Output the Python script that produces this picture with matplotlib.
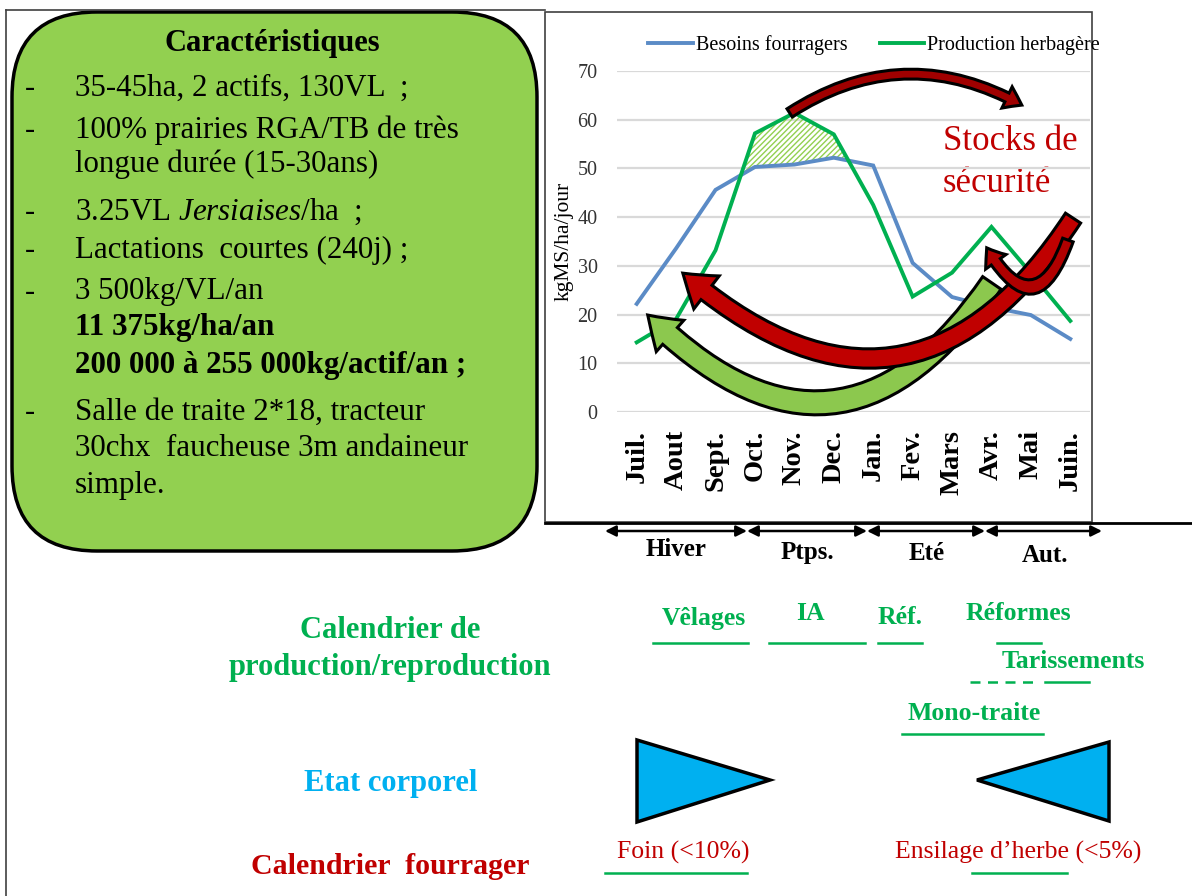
import matplotlib
matplotlib.use('Agg')
import matplotlib.pyplot as plt
from matplotlib.patches import FancyBboxPatch, FancyArrowPatch, Polygon, Rectangle
import numpy as np

plt.rcParams['font.family'] = ['Liberation Serif', 'DejaVu Serif']
plt.rcParams['mathtext.fontset'] = 'custom'
plt.rcParams['mathtext.rm'] = 'Liberation Serif'
plt.rcParams['mathtext.it'] = 'Liberation Serif:italic'
plt.rcParams['hatch.linewidth'] = 1.0

# Données du graphique (kgMS/ha/jour)
mois = ['Juil.', 'Aout', 'Sept.', 'Oct.', 'Nov.', 'Dec.', 'Jan.', 'Fev.', 'Mars', 'Avr.', 'Mai', 'Juin.']
besoins = [22.2, 33.6, 45.6, 50.3, 50.8, 52.2, 50.6, 30.6, 23.6, 21.5, 19.9, 15.0]
production = [14.3, 19.1, 33.2, 57.2, 61.4, 57.0, 42.5, 23.7, 28.6, 38.0, 28.5, 18.7]
yticks = [0, 10, 20, 30, 40, 50, 60, 70]

saisons = ['Hiver', 'Ptps.', 'Eté', 'Aut.']
caracteristiques = [
    ('-', '35-45ha, 2 actifs, 130VL  ;', 'normal'),
    ('-', '100% prairies RGA/TB de très', 'normal'),
    ('', 'longue durée (15-30ans)', 'normal'),
    ('-', r'3.25VL $\mathit{Jersiaises}$/ha  ;', 'normal'),
    ('-', 'Lactations  courtes (240j) ;', 'normal'),
    ('-', '3 500kg/VL/an', 'normal'),
    ('', '11 375kg/ha/an', 'bold'),
    ('', '200 000 à 255 000kg/actif/an ;', 'bold'),
    ('-', 'Salle de traite 2*18, tracteur', 'normal'),
    ('', '30chx  faucheuse 3m andaineur', 'normal'),
    ('', 'simple.', 'normal'),
]
lignes_y = [88, 130, 164, 212, 250, 292, 328, 365, 412, 448, 485]

BLUE = '#5B8BC6'
GREEN = '#00B050'
RED = '#C00000'
CYAN = '#00B0F0'
W, H = 1192, 896

fig = plt.figure(figsize=(W / 100, H / 100), dpi=100)

# calque de mise en page (coordonnées en pixels)
ov = fig.add_axes([0, 0, 1, 1], zorder=0)
ov.set_xlim(0, W)
ov.set_ylim(H, 0)
ov.axis('off')

# cadre général
ov.plot([6, 6], [10, 896], color='#404040', lw=1.2)
ov.plot([6, 545], [10, 10], color='#404040', lw=1.2)
ov.add_patch(Rectangle((545, 12), 547, 510, fill=False, ec='#404040', lw=1.2))
ov.plot([545, 1192], [523, 523], color='black', lw=2)

# encadré vert
ov.add_patch(FancyBboxPatch((12, 12), 525, 539, boxstyle='round,pad=0,rounding_size=85',
                            fc='#92D050', ec='black', lw=2.5))
ov.text(272, 44, 'Caractéristiques', fontsize=22, fontweight='bold', ha='center', va='center')
for (tiret, txt, poids), y in zip(caracteristiques, lignes_y):
    if tiret:
        ov.text(30, y, tiret, fontsize=22, ha='center', va='center')
    ov.text(75, y, txt, fontsize=22.3, fontweight=poids, ha='left', va='center')

# graphique
ax = fig.add_axes([617 / W, 1 - 412 / H, (1090 - 617) / W, (412 - 71) / H], zorder=1)
ax.set_facecolor('none')
x = np.arange(len(mois))
b = np.array(besoins)
p = np.array(production)
ax.plot(x, b, color=BLUE, lw=2.8, solid_joinstyle='miter', label='Besoins fourragers', zorder=3)
ax.plot(x, p, color=GREEN, lw=2.8, solid_joinstyle='miter', label='Production herbagère', zorder=3)
ax.fill_between(x, b, p, where=(p >= b) & (x <= 6), interpolate=True,
                facecolor='none', edgecolor='#92D050', hatch='//////', lw=0, zorder=2)
ax.set_xlim(-0.5, len(mois) - 0.5)
ax.set_ylim(0, 70)
ax.set_yticks(yticks)
ax.set_xticks(x)
ax.set_xticklabels(mois, rotation=90, fontsize=20.5, fontweight='bold', va='top')
ax.tick_params(axis='y', labelsize=14.5, labelcolor='#333333', length=0, pad=14)
ax.tick_params(axis='x', length=0, pad=13)
ax.yaxis.grid(True, color='#D9D9D9', lw=1.6)
ax.set_axisbelow(True)
for s in ax.spines.values():
    s.set_visible(False)
ax.set_ylabel('kgMS/ha/jour', fontsize=15.5, labelpad=3)
ax.legend(loc='center', bbox_to_anchor=(874 / W, 1 - 45 / H), bbox_transform=fig.transFigure,
          ncol=2, frameon=False, fontsize=14.5, handlelength=2.2, handletextpad=0.15,
          columnspacing=1.6)

# flèches courbes
def fleche(a, bpt, rad, fc, tw, hw, hl, z):
    ar = FancyArrowPatch(a, bpt, connectionstyle=f'arc3,rad={rad}',
                         arrowstyle=f'simple,head_length={hl},head_width={hw},tail_width={tw}',
                         mutation_scale=1, fc=fc, ec='black', lw=2.2, shrinkA=0, shrinkB=0,
                         zorder=z, clip_on=False, joinstyle='miter')
    ax.add_patch(ar)

fleche((9.01, 26.5), (0.28, 19.9), -0.6, '#8CC84E', 16, 30, 22, 5)
fleche((11.07, 39.8), (1.17, 28.5), -0.57, RED, 13, 30, 22, 6)
fleche((10.94, 35.3), (8.88, 33.7), -1.06, '#B00000', 8, 18, 12, 6)
fleche((3.88, 61.4), (9.77, 63.0), -0.3, '#A00000', 7, 17, 12, 6)

ov.text(943, 141, 'Stocks de', fontsize=25, color=RED, ha='left', va='center')
ov.text(943, 183, 'sécurité', fontsize=25, color=RED, ha='left', va='center')

# saisons
bornes = [605, 747, 867, 985, 1102]
centres = [(676, 550), (807, 553), (927, 554), (1045, 556)]
for i, s in enumerate(saisons):
    ov.annotate('', xy=(bornes[i + 1], 531), xytext=(bornes[i], 531),
                arrowprops=dict(arrowstyle='<|-|>', color='black', lw=1.8,
                                mutation_scale=16, shrinkA=0, shrinkB=0))
    ov.text(centres[i][0], centres[i][1], s, fontsize=18, fontweight='bold', ha='center', va='center')

# calendrier de production
ov.text(390, 630, 'Calendrier de', fontsize=22, fontweight='bold', color=GREEN, ha='center', va='center')
ov.text(390, 667, 'production/reproduction', fontsize=22, fontweight='bold', color=GREEN,
        ha='center', va='center')
evenements = [('Vêlages', 704, 618, 653, 748), ('IA', 810, 614, 769, 865),
              ('Réf.', 900, 617, 878, 922), ('Réformes', 1018, 614, 997, 1041)]
for nom, tx, ty, x0, x1 in evenements:
    ov.text(tx, ty, nom, fontsize=18.5, fontweight='bold', color=GREEN, ha='center', va='center')
    ov.plot([x0, x1], [643, 643], color=GREEN, lw=1.8)
ov.text(1073, 662, 'Tarissements', fontsize=18.5, fontweight='bold', color=GREEN, ha='center', va='center')
ov.plot([970, 1040], [682, 682], color=GREEN, lw=1.8, ls=(0, (4, 3)))
ov.plot([1045, 1089], [682, 682], color=GREEN, lw=1.8)
ov.text(974, 714, 'Mono-traite', fontsize=18.5, fontweight='bold', color=GREEN, ha='center', va='center')
ov.plot([902, 1043], [734, 734], color=GREEN, lw=1.8)

# état corporel
ov.text(391, 784, 'Etat corporel', fontsize=22, fontweight='bold', color=CYAN, ha='center', va='center')
ov.add_patch(Polygon([(637, 740), (637, 822), (770, 780)], closed=True, fc=CYAN, ec='black', lw=2.5))
ov.add_patch(Polygon([(1109, 742), (1109, 821), (977, 780)], closed=True, fc=CYAN, ec='black', lw=2.5))

# calendrier fourrager
ov.text(390, 867, 'Calendrier  fourrager', fontsize=21.5, fontweight='bold', color=RED, ha='center', va='center')
ov.text(683, 852, 'Foin (<10%)', fontsize=18.5, color=RED, ha='center', va='center')
ov.text(1018, 852, 'Ensilage d’herbe (<5%)', fontsize=18.5, color=RED, ha='center', va='center')
ov.plot([605, 747], [873, 873], color=GREEN, lw=1.8)
ov.plot([972, 1067], [873, 873], color=GREEN, lw=1.8)

fig.savefig('out.png', dpi=100)
